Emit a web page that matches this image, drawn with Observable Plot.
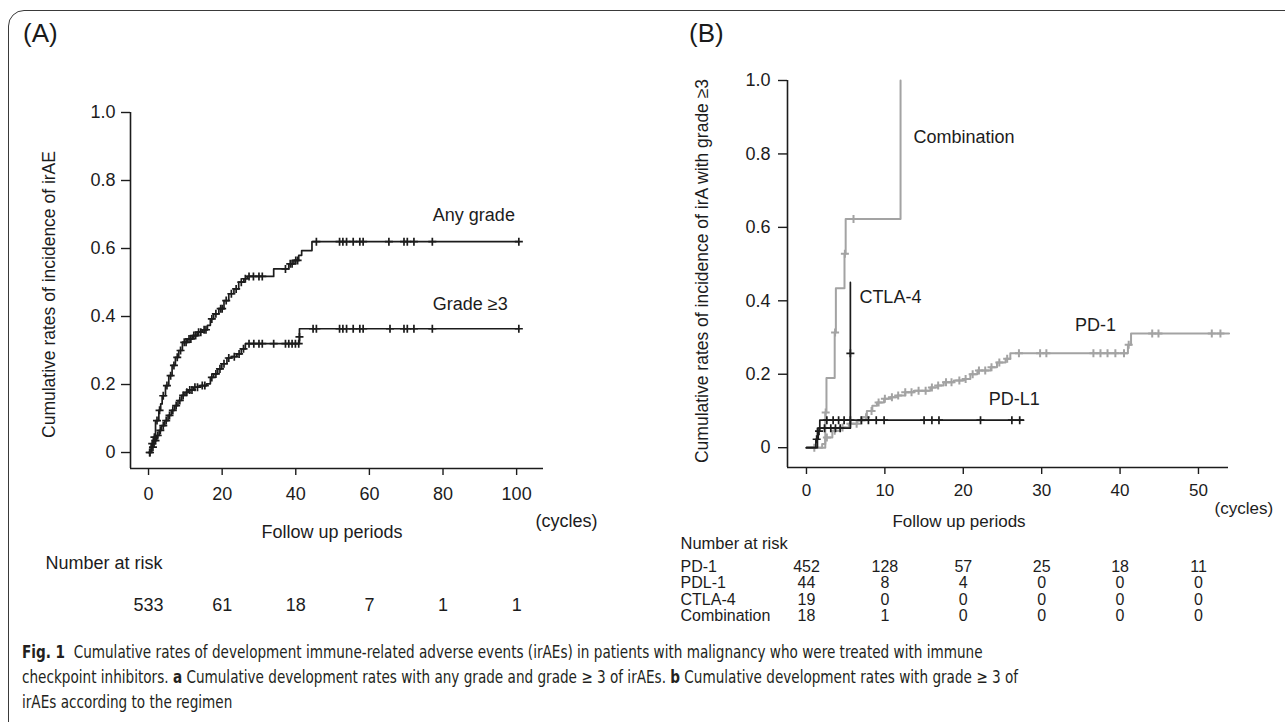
<!DOCTYPE html>
<html><head><meta charset="utf-8">
<script src="https://cdn.jsdelivr.net/npm/d3@7"></script>
<script src="https://cdn.jsdelivr.net/npm/@observablehq/plot@0.6"></script>
<style>
html,body{margin:0;padding:0;background:#fff;width:1285px;height:722px;overflow:hidden;}
#root{position:relative;width:1285px;height:722px;font-family:"Liberation Sans",Arial,sans-serif;color:#1a1a1a;}
.box{position:absolute;left:8px;top:10px;width:1320px;height:760px;border:1.6px solid #3a3a3a;border-top-left-radius:16px;box-sizing:border-box;}
.tag{position:absolute;font-size:26px;line-height:1;}
#plotA{position:absolute;left:0;top:0;}
#plotB{position:absolute;left:660px;top:0;}
.caption{position:absolute;left:22px;top:640px;white-space:nowrap;font-family:"DejaVu Sans",sans-serif;font-stretch:condensed;font-size:17.5px;line-height:25px;color:#231f20;transform-origin:0 0;}
</style></head>
<body><div id="root">
<div class="box"></div>
<div class="tag" style="left:23px;top:20px;">(A)</div>
<div class="tag" style="left:689px;top:20px;">(B)</div>
<div id="plotA"></div>
<div id="plotB"></div>
<div class="caption" id="cap"><b>Fig. 1</b>&nbsp; Cumulative rates of development immune-related adverse events (irAEs) in patients with malignancy who were treated with immune<br>checkpoint inhibitors. <b>a</b> Cumulative development rates with any grade and grade ≥ 3 of irAEs. <b>b</b> Cumulative development rates with grade ≥ 3 of<br>irAEs according to the regimen</div>
</div>
<script>
// ---------- Panel A data ----------
const xTicksA = [0, 20, 40, 60, 80, 100];
const yTicks = [0, 0.2, 0.4, 0.6, 0.8, 1.0];
const anyGrade = [[0,0],[0.7,0.026],[1.3,0.045],[1.9,0.094],[2.8,0.124],[3.3,0.143],[3.7,0.167],[4.6,0.197],[5.5,0.226],[6.4,0.256],[7.3,0.28],[8.2,0.3],[9.2,0.324],[10.5,0.334],[11.9,0.344],[13.2,0.354],[14.6,0.361],[16.0,0.374],[16.8,0.393],[17.7,0.408],[19.1,0.423],[20.5,0.447],[21.8,0.467],[23.2,0.481],[24.5,0.501],[25.9,0.511],[26.8,0.518],[34.0,0.54],[38.1,0.555],[39.5,0.565],[40.8,0.58],[41.6,0.594],[44.4,0.62],[100.6,0.62]];
const anyGradeCensor = [0.3,1.0,1.6,2.3,3.0,4.0,5.0,6.0,6.9,7.8,8.7,9.7,10.2,11.0,11.5,12.3,12.8,13.6,14.2,15.1,15.6,17.2,18.3,19.6,20.0,21.1,22.5,23.8,25.2,26.3,27.3,28.5,30.0,30.9,37.2,38.5,39.0,40.0,40.5,45.6,51.9,52.8,53.8,55.6,57.4,58.3,65.3,69.4,70.3,72.1,77.1,100.6];
const grade3 = [[0,0],[0.9,0.016],[1.5,0.035],[2.2,0.05],[2.9,0.065],[3.5,0.079],[4.4,0.094],[5.3,0.109],[6.2,0.124],[7.1,0.138],[8.0,0.153],[9.0,0.168],[9.9,0.177],[10.8,0.184],[12.2,0.192],[14.0,0.197],[15.8,0.202],[16.8,0.221],[17.7,0.231],[18.8,0.246],[19.9,0.261],[21.3,0.278],[22.6,0.282],[24.0,0.29],[25.2,0.305],[26.3,0.32],[41.0,0.364],[100.6,0.364]];
const grade3Censor = [0.4,1.2,1.9,2.5,3.2,4.0,4.8,5.7,6.6,7.5,8.5,9.4,10.4,11.2,11.8,12.6,13.3,14.6,15.3,17.2,18.3,19.4,20.5,21.8,23.3,24.6,25.8,27.3,28.6,30.0,30.9,34.0,37.2,38.1,39.0,39.9,40.8,[41.0,0.34],44.7,45.6,51.9,52.8,53.8,55.6,57.4,58.3,65.6,69.4,70.3,72.1,77.1,100.6];
const riskTimesA = [0, 20, 40, 60, 80, 100];
const riskA = [533, 61, 18, 7, 1, 1];

// ---------- Panel B data ----------
const xTicksB = [0, 10, 20, 30, 40, 50];
const pd1 = [[0,0],[2.0,0.01],[2.4,0.028],[3.3,0.046],[4.3,0.055],[5.4,0.065],[6.5,0.074],[7.1,0.083],[7.7,0.1],[8.4,0.114],[9.0,0.123],[9.9,0.133],[10.7,0.137],[11.6,0.142],[12.6,0.151],[13.7,0.155],[15.8,0.164],[16.7,0.169],[17.5,0.178],[18.8,0.183],[20.1,0.187],[20.9,0.2],[21.8,0.21],[23.5,0.219],[24.3,0.232],[25.4,0.242],[26.0,0.257],[41.0,0.28],[41.4,0.311],[53.9,0.311]];
const pd1Censor = [1.0,2.6,3.6,4.6,5.6,6.4,7.0,7.6,8.3,9.2,10.0,10.9,11.7,12.6,13.4,14.3,15.2,16.0,16.8,17.8,18.5,19.5,20.3,21.2,22.0,22.8,23.6,24.6,25.6,27.1,29.8,30.6,36.6,37.5,38.4,39.4,40.5,41.1,44.1,44.9,51.7,52.8];
const pdl1 = [[0,0],[1.2,0.023],[1.5,0.045],[1.7,0.075],[27.7,0.075]];
const pdl1Censor = [1.3,1.6,2.6,3.4,4.1,4.8,5.6,7.0,7.9,8.9,9.9,15.0,16.0,16.9,22.2,26.2,27.2];
const ctla4 = [[0,0],[1.4,0.053],[5.6,0.053],[5.6,0.45]];
const ctla4Censor = [2.3,3.1,3.7,4.3,[5.6,0.257]];
const combo = [[0,0],[2.4,0.096],[2.55,0.19],[3.6,0.314],[3.75,0.434],[4.85,0.528],[5.0,0.623],[12.0,1.0]];
const comboCensor = [2.45,3.65,4.9,6.0];
const riskTimesB = [0, 10, 20, 30, 40, 50];
const riskPD1 = [452, 128, 57, 25, 18, 11];
const riskPDL1 = [44, 8, 4, 0, 0, 0];
const riskCTLA4 = [19, 0, 0, 0, 0, 0];
const riskCombo = [18, 1, 0, 0, 0, 0];
const riskRowNames = ["PD-1", "PDL-1", "CTLA-4", "Combination"];

// ---------- helpers ----------
const ink = "#1c1c1c", gray = "#a3a3a3";
const font = "'Liberation Sans', Arial, sans-serif";
const yFmt = d => d === 0 ? "0" : d3.format(".1f")(d);
const toPts = arr => arr.map(([t, v]) => ({t, v}));
function stepAt(curve, t) { let v = curve[0][1]; for (const [ct, cv] of curve) { if (ct <= t) v = cv; else break; } return v; }
const censorPts = (curve, cs) => cs.map(c => Array.isArray(c) ? {t: c[0], v: c[1]} : {t: c, v: stepAt(curve, c)});
const lastPt = curve => [{t: curve[curve.length - 1][0], v: curve[curve.length - 1][1]}];
function km(curve, censors, color, w) {
  return [
    Plot.line(toPts(curve), {x: "t", y: "v", curve: "step-after", stroke: color, strokeWidth: w}),
    Plot.dot(censorPts(curve, censors), {x: "t", y: "v", symbol: "plus", r: 2.7, stroke: color, strokeWidth: w})
  ];
}
const rows = (times, vals) => times.map((t, i) => ({t, n: vals[i]}));

// ---------- Panel A ----------
const xDomA = [-4.9, 107.3], yDomA = [-0.047, 1.0];
const plotA = Plot.plot({
  width: 640, height: 620,
  marginLeft: 130, marginRight: 97, marginTop: 112, marginBottom: 152,
  style: {fontFamily: font, fontSize: "18px", color: ink, background: "transparent"},
  x: {domain: xDomA},
  y: {domain: yDomA},
  marks: [
    Plot.ruleX([xDomA[0]], {stroke: ink, strokeWidth: 1.6}),
    Plot.ruleY([yDomA[0]], {stroke: ink, strokeWidth: 1.6}),
    Plot.axisY(yTicks, {anchor: "left", tickSize: 9, tickPadding: 6, tickFormat: yFmt, label: null, stroke: ink, strokeWidth: 1.4, fontSize: 18}),
    Plot.axisX(xTicksA, {anchor: "bottom", tickSize: 7, tickPadding: 12, label: null, stroke: ink, strokeWidth: 1.4, fontSize: 18}),
    Plot.text(["Cumulative rates of incidence of irAE"], {frameAnchor: "left", textAnchor: "middle", lineAnchor: "middle", rotate: -90, dx: -81, dy: 4, fontSize: 17.5, fill: ink}),
    ...km(anyGrade, anyGradeCensor, ink, 1.7),
    ...km(grade3, grade3Censor, ink, 1.7),
    Plot.text(lastPt(anyGrade), {x: "t", y: "v", text: () => "Any grade", textAnchor: "start", dx: -86, dy: -26, fontSize: 18, fill: ink}),
    Plot.text(lastPt(grade3), {x: "t", y: "v", text: () => "Grade ≥3", textAnchor: "start", dx: -86, dy: -25, fontSize: 18, fill: ink}),
    Plot.text(["Follow up periods"], {frameAnchor: "bottom", dx: -5, dy: 69, fontSize: 18, fill: ink}),
    Plot.text(["(cycles)"], {frameAnchor: "bottom-right", textAnchor: "start", dx: -8, dy: 58, fontSize: 18, fill: ink}),
    Plot.text(["Number at risk"], {frameAnchor: "bottom-left", textAnchor: "start", dx: -85, dy: 100, fontSize: 18, fill: ink}),
    Plot.text(rows(riskTimesA, riskA), {x: "t", text: "n", frameAnchor: "bottom", dy: 142, fontSize: 18, fill: ink})
  ]
});
document.getElementById("plotA").append(plotA);

// ---------- Panel B ----------
const xDomB = [-2.42, 53.83], yDomB = [-0.054, 1.0];
const rowDy = [104, 120.5, 137, 153.5];
const riskRowsB = [riskPD1, riskPDL1, riskCTLA4, riskCombo];
const plotB = Plot.plot({
  width: 625, height: 640,
  marginLeft: 127, marginRight: 57, marginTop: 80, marginBottom: 173,
  style: {fontFamily: font, fontSize: "17px", color: ink, background: "transparent"},
  x: {domain: xDomB},
  y: {domain: yDomB},
  marks: [
    Plot.ruleX([xDomB[0]], {stroke: ink, strokeWidth: 1.6}),
    Plot.ruleY([yDomB[0]], {stroke: ink, strokeWidth: 1.6}),
    Plot.axisY(yTicks, {anchor: "left", tickSize: 9, tickPadding: 8, tickFormat: yFmt, label: null, stroke: ink, strokeWidth: 1.4, fontSize: 18}),
    Plot.axisX(xTicksB, {anchor: "bottom", tickSize: 7, tickPadding: 9, label: null, stroke: ink, strokeWidth: 1.4, fontSize: 17}),
    Plot.text(["Cumulative rates of incidence of irA with grade ≥3"], {frameAnchor: "left", textAnchor: "middle", lineAnchor: "middle", rotate: -90, dx: -85, dy: -3, fontSize: 17.5, fill: ink}),
    ...km(pd1, pd1Censor, gray, 2),
    ...km(combo, comboCensor, gray, 2),
    ...km(pdl1, pdl1Censor, ink, 1.7),
    ...km(ctla4, ctla4Censor, ink, 1.7),
    Plot.text(lastPt(combo), {x: "t", y: "v", text: () => "Combination", textAnchor: "start", dx: 13, dy: 57, fontSize: 18, fill: ink}),
    Plot.text(lastPt(ctla4), {x: "t", y: "v", text: () => "CTLA-4", textAnchor: "start", dx: 9, dy: 15, fontSize: 18, fill: ink}),
    Plot.text(lastPt(pd1), {x: "t", y: "v", text: () => "PD-1", textAnchor: "start", dx: -154, dy: -8, fontSize: 18, fill: ink}),
    Plot.text(lastPt(pdl1), {x: "t", y: "v", text: () => "PD-L1", textAnchor: "start", dx: -35, dy: -21, fontSize: 18, fill: ink}),
    Plot.text(["Follow up periods"], {frameAnchor: "bottom", dx: -49, dy: 59, fontSize: 17, fill: ink}),
    Plot.text(["(cycles)"], {frameAnchor: "bottom-right", textAnchor: "start", dx: -14, dy: 46, fontSize: 17, fill: ink}),
    Plot.text(["Number at risk"], {frameAnchor: "bottom-left", textAnchor: "start", dx: -107, dy: 81, fontSize: 16.5, fill: ink}),
    ...riskRowNames.map((name, i) => Plot.text([name], {frameAnchor: "bottom-left", textAnchor: "start", dx: -107, dy: rowDy[i], fontSize: 16, fill: ink})),
    ...riskRowsB.map((vals, i) => Plot.text(rows(riskTimesB, vals), {x: "t", text: "n", frameAnchor: "bottom", dy: rowDy[i], fontSize: 16, fill: ink}))
  ]
});
document.getElementById("plotB").append(plotB);

// fit the caption's longest line to the reference width
const cap = document.getElementById("cap");
const capW = cap.getBoundingClientRect().width;
const targetW = 996;
if (capW > 0) cap.style.transform = `scaleX(${targetW / capW})`;
</script>
</body></html>
